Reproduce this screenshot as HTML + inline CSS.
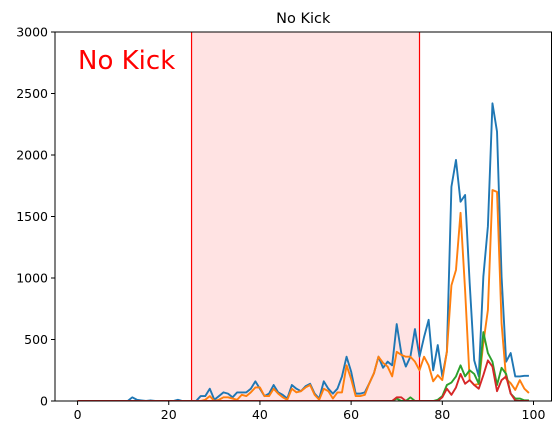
<!DOCTYPE html>
<html><head><meta charset="utf-8"><style>
html,body{margin:0;padding:0;background:#fff;}
svg{display:block;font-family:"DejaVu Sans","Liberation Sans",sans-serif;}
</style></head><body>
<svg id="chart" width="560" height="435"></svg>
<script>
const xs = Array.from({length:100},(_, i)=>i);
const blue = [0,0,0,0,0,0,0,0,0,0,0,0,30,10,5,0,5,0,0,0,0,0,10,0,0,0,0,40,40,100,10,40,70,60,30,70,70,70,100,160,100,40,60,130,70,50,20,130,100,80,120,140,60,20,160,100,60,100,200,360,240,60,60,70,145,225,360,270,320,290,625,390,280,360,585,360,520,660,250,455,200,400,1742,1960,1620,1675,960,330,200,1010,1420,2420,2190,1010,320,390,200,200,205,205];
const orange = [0,0,0,0,0,0,0,0,0,0,0,0,0,0,0,0,0,0,0,0,0,0,0,0,0,0,0,0,10,40,0,10,30,30,20,10,50,40,70,110,110,40,40,100,60,30,10,100,70,80,110,130,50,10,100,80,20,70,70,290,180,40,40,50,145,225,360,310,280,200,400,375,360,360,320,250,360,290,160,210,170,400,940,1065,1530,900,170,130,140,470,740,1715,1700,630,180,145,90,170,100,65];
const green = [0,0,0,0,0,0,0,0,0,0,0,0,0,0,0,0,0,0,0,0,0,0,0,0,0,0,0,0,0,0,0,0,0,0,0,0,0,0,0,0,0,0,0,0,0,0,0,0,0,0,0,0,0,0,0,0,0,0,0,0,0,0,0,0,0,0,0,0,0,0,20,0,0,30,0,0,0,0,0,10,40,130,150,200,290,200,250,220,140,560,390,320,130,270,220,60,20,20,5,5];
const red = [0,0,0,0,0,0,0,0,0,0,0,0,0,0,0,0,0,0,0,0,0,0,0,0,0,0,0,0,0,0,0,0,0,0,0,0,0,0,0,0,0,0,0,0,0,0,0,0,0,0,0,0,0,0,0,0,0,0,0,0,0,0,0,0,0,0,0,0,0,0,30,30,0,0,0,0,0,0,0,0,30,100,50,110,220,140,170,130,100,210,330,280,80,170,200,60,5,0,0,0];
const xTicks = [0,20,40,60,80,100];
const yTicks = [0,500,1000,1500,2000,2500,3000];
const shadeRange = [25,75];

const L=55,R=551.5,T=32,B=401;
const xmin=-4.95,xmax=103.95,ymin=0,ymax=3000;
const X=v=>L+(v-xmin)/(xmax-xmin)*(R-L);
const Y=v=>B-(v-ymin)/(ymax-ymin)*(B-T);
const svg=document.getElementById('chart');
const NS='http://www.w3.org/2000/svg';
function mk(tag,attrs,parent){const e=document.createElementNS(NS,tag);for(const k in attrs)e.setAttribute(k,attrs[k]);(parent||svg).appendChild(e);return e;}

const clipDefs=mk('defs',{});
const cp=mk('clipPath',{id:'clip'},clipDefs);
mk('rect',{x:L,y:T,width:R-L,height:B-T},cp);

const shade=mk('rect',{x:X(shadeRange[0]),y:T,width:X(shadeRange[1])-X(shadeRange[0]),height:B-T,fill:'#ffe3e3'});


shadeRange.forEach((v,i)=>{
  const l=mk('line',{x1:X(v),x2:X(v),y1:T,y2:B,stroke:'#ff0000','stroke-width':1.2});
  
  
});

const series=[[blue,'#1f77b4','series-blue'],[orange,'#ff7f0e','series-orange'],[green,'#2ca02c','series-green'],[red,'#d62728','series-red']];
series.forEach(([d,c,n])=>{
  const p=mk('polyline',{points:d.map((v,i)=>X(xs[i]).toFixed(2)+','+Y(v).toFixed(2)).join(' '),fill:'none',stroke:c,'stroke-width':1.9,'stroke-linejoin':'round','clip-path':'url(#clip)'});
  
  
});

const frame=mk('rect',{x:L,y:T,width:R-L,height:B-T,fill:'none',stroke:'#000','stroke-width':1});



xTicks.forEach(t=>{
  mk('line',{x1:X(t),x2:X(t),y1:B,y2:B+4,stroke:'#000','stroke-width':1});
  const tx=mk('text',{x:X(t),y:B+18,'font-size':12.5,'text-anchor':'middle',fill:'#000'});
  tx.textContent=t;
  
  
});
yTicks.forEach(t=>{
  mk('line',{x1:L-4,x2:L,y1:Y(t),y2:Y(t),stroke:'#000','stroke-width':1});
  const tx=mk('text',{x:L-7,y:Y(t)+4.5,'font-size':12.5,'text-anchor':'end',fill:'#000'});
  tx.textContent=t;
  
  
});

const title=mk('text',{x:(L+R)/2,y:23,'font-size':14.5,'text-anchor':'middle',fill:'#000'});
title.textContent='No Kick';



const ann=mk('text',{x:78,y:69,'font-size':26,fill:'#ff0000'});
ann.textContent='No Kick';


</script>
</body></html>
